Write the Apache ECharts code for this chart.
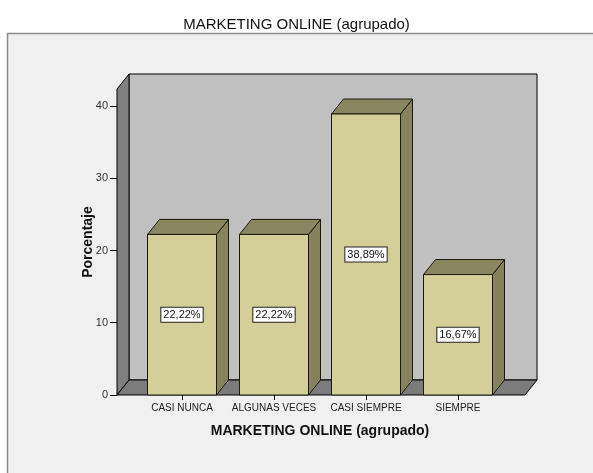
<!DOCTYPE html>
<html>
<head>
<meta charset="utf-8">
<script src="https://cdn.jsdelivr.net/npm/echarts@6/dist/echarts.min.js"></script>
<style>
html,body{margin:0;padding:0;background:#fff;}
#chart{width:593px;height:473px;}
</style>
</head>
<body>
<div id="chart"></div>
<script>
var categories = ['CASI NUNCA', 'ALGUNAS VECES', 'CASI SIEMPRE', 'SIEMPRE'];
var percentages = [22.22, 22.22, 38.89, 16.67];
var yTicks = [0, 10, 20, 30, 40];
var chartTitle = 'MARKETING ONLINE (agrupado)';
var xName = 'MARKETING ONLINE (agrupado)';
var yName = 'Porcentaje';

var DX = 12, DY = -15;         // 3D depth offset
var EXT_L = 19, EXT_R = 21;    // floor/wall extension beyond the category band
var FONT = '"Liberation Sans", Arial, sans-serif';

var chart = echarts.init(document.getElementById('chart'), null, {renderer: 'canvas'});

function fmt(v) { return v.toFixed(2).replace('.', ',') + '%'; }

var option = {
  backgroundColor: '#ffffff',
  animation: false,
  title: {
    text: chartTitle, left: 'center', top: 12,
    textStyle: {fontFamily: FONT, fontSize: 15, fontWeight: 'normal', color: '#111'}
  },
  graphic: [{
    type: 'rect', z: -10, silent: true,
    shape: {x: 7.5, y: 33.5, width: 620, height: 480},
    style: {fill: '#f0f0f0', stroke: '#8c8c8c', lineWidth: 1.5}
  }],
  grid: {left: 136, right: 89, top: 89, bottom: 78, containLabel: false},
  xAxis: {
    type: 'category', data: categories,
    axisLine: {show: false},
    axisTick: {show: true, alignWithLabel: true, length: 5, lineStyle: {color: '#000'}},
    axisLabel: {fontFamily: FONT, fontSize: 10, color: '#222', margin: 8, interval: 0},
    splitLine: {show: false},
    name: xName, nameLocation: 'middle', nameGap: 29, nameMoveOverlap: false,
    nameTextStyle: {fontFamily: FONT, fontSize: 14, fontWeight: 'bold', color: '#111'}
  },
  yAxis: {
    type: 'value', min: 0, max: 42.35, offset: EXT_L,
    axisLine: {show: true, lineStyle: {color: '#000', width: 1}},
    axisTick: {show: true, length: 7, customValues: yTicks, lineStyle: {color: '#000'}},
    axisLabel: {fontFamily: FONT, fontSize: 11, color: '#333', margin: 9, customValues: yTicks},
    splitLine: {show: false},
    name: yName, nameLocation: 'middle', nameGap: 22, nameRotate: 90, nameMoveOverlap: false,
    nameTextStyle: {fontFamily: FONT, fontSize: 14, fontWeight: 'bold', color: '#111'}
  },
  series: [
    {
      type: 'custom', name: 'walls', silent: true, z: 1,
      data: [[0, 0]],
      encode: {x: 0, y: 1},
      renderItem: function (params, api) {
        var cs = params.coordSys;
        var x0 = cs.x - EXT_L, x1 = cs.x + cs.width + EXT_R;
        var yb = cs.y + cs.height, yt = cs.y;
        var st = {stroke: '#000', lineWidth: 1};
        return {
          type: 'group',
          children: [
            {type: 'polygon', shape: {points: [[x0 + DX, yt + DY], [x1 + DX, yt + DY], [x1 + DX, yb + DY], [x0 + DX, yb + DY]]},
             style: Object.assign({fill: '#c0c0c0'}, st)},
            {type: 'polygon', shape: {points: [[x0, yb], [x0 + DX, yb + DY], [x0 + DX, yt + DY], [x0, yt]]},
             style: Object.assign({fill: '#808080'}, st)},
            {type: 'polygon', shape: {points: [[x0, yb], [x1, yb], [x1 + DX, yb + DY], [x0 + DX, yb + DY]]},
             style: Object.assign({fill: '#7b7b7b'}, st)}
          ]
        };
      }
    },
    {
      type: 'custom', name: 'Porcentaje', z: 2,
      data: percentages.map(function (v, i) { return [i, v]; }),
      encode: {x: 0, y: 1},
      renderItem: function (params, api) {
        var idx = api.value(0), val = api.value(1);
        var top = api.coord([idx, val]);
        var base = api.coord([idx, 0]);
        var w = api.size([1, 0])[0] * 0.75;
        var l = top[0] - w / 2, r = top[0] + w / 2;
        var t = top[1], b = base[1];
        var st = {stroke: '#1a1a10', lineWidth: 1};
        return {
          type: 'group',
          children: [
            {type: 'polygon', shape: {points: [[r, b], [r + DX, b + DY], [r + DX, t + DY], [r, t]]},
             style: Object.assign({fill: '#86835c'}, st)},
            {type: 'polygon', shape: {points: [[l, t], [r, t], [r + DX, t + DY], [l + DX, t + DY]]},
             style: Object.assign({fill: '#8a865f'}, st)},
            {type: 'rect', shape: {x: l, y: t, width: w, height: b - t},
             style: Object.assign({fill: '#d4cf99'}, st)},
            {type: 'text', z2: 10,
             style: {text: fmt(val), x: top[0], y: (t + b) / 2, align: 'center', verticalAlign: 'middle',
                     font: '11px ' + FONT, fill: '#111', backgroundColor: '#ffffff',
                     borderColor: '#222', borderWidth: 1, padding: [2, 2, 1, 2]}}
          ]
        };
      }
    }
  ]
};
chart.setOption(option);
</script>
</body>
</html>
